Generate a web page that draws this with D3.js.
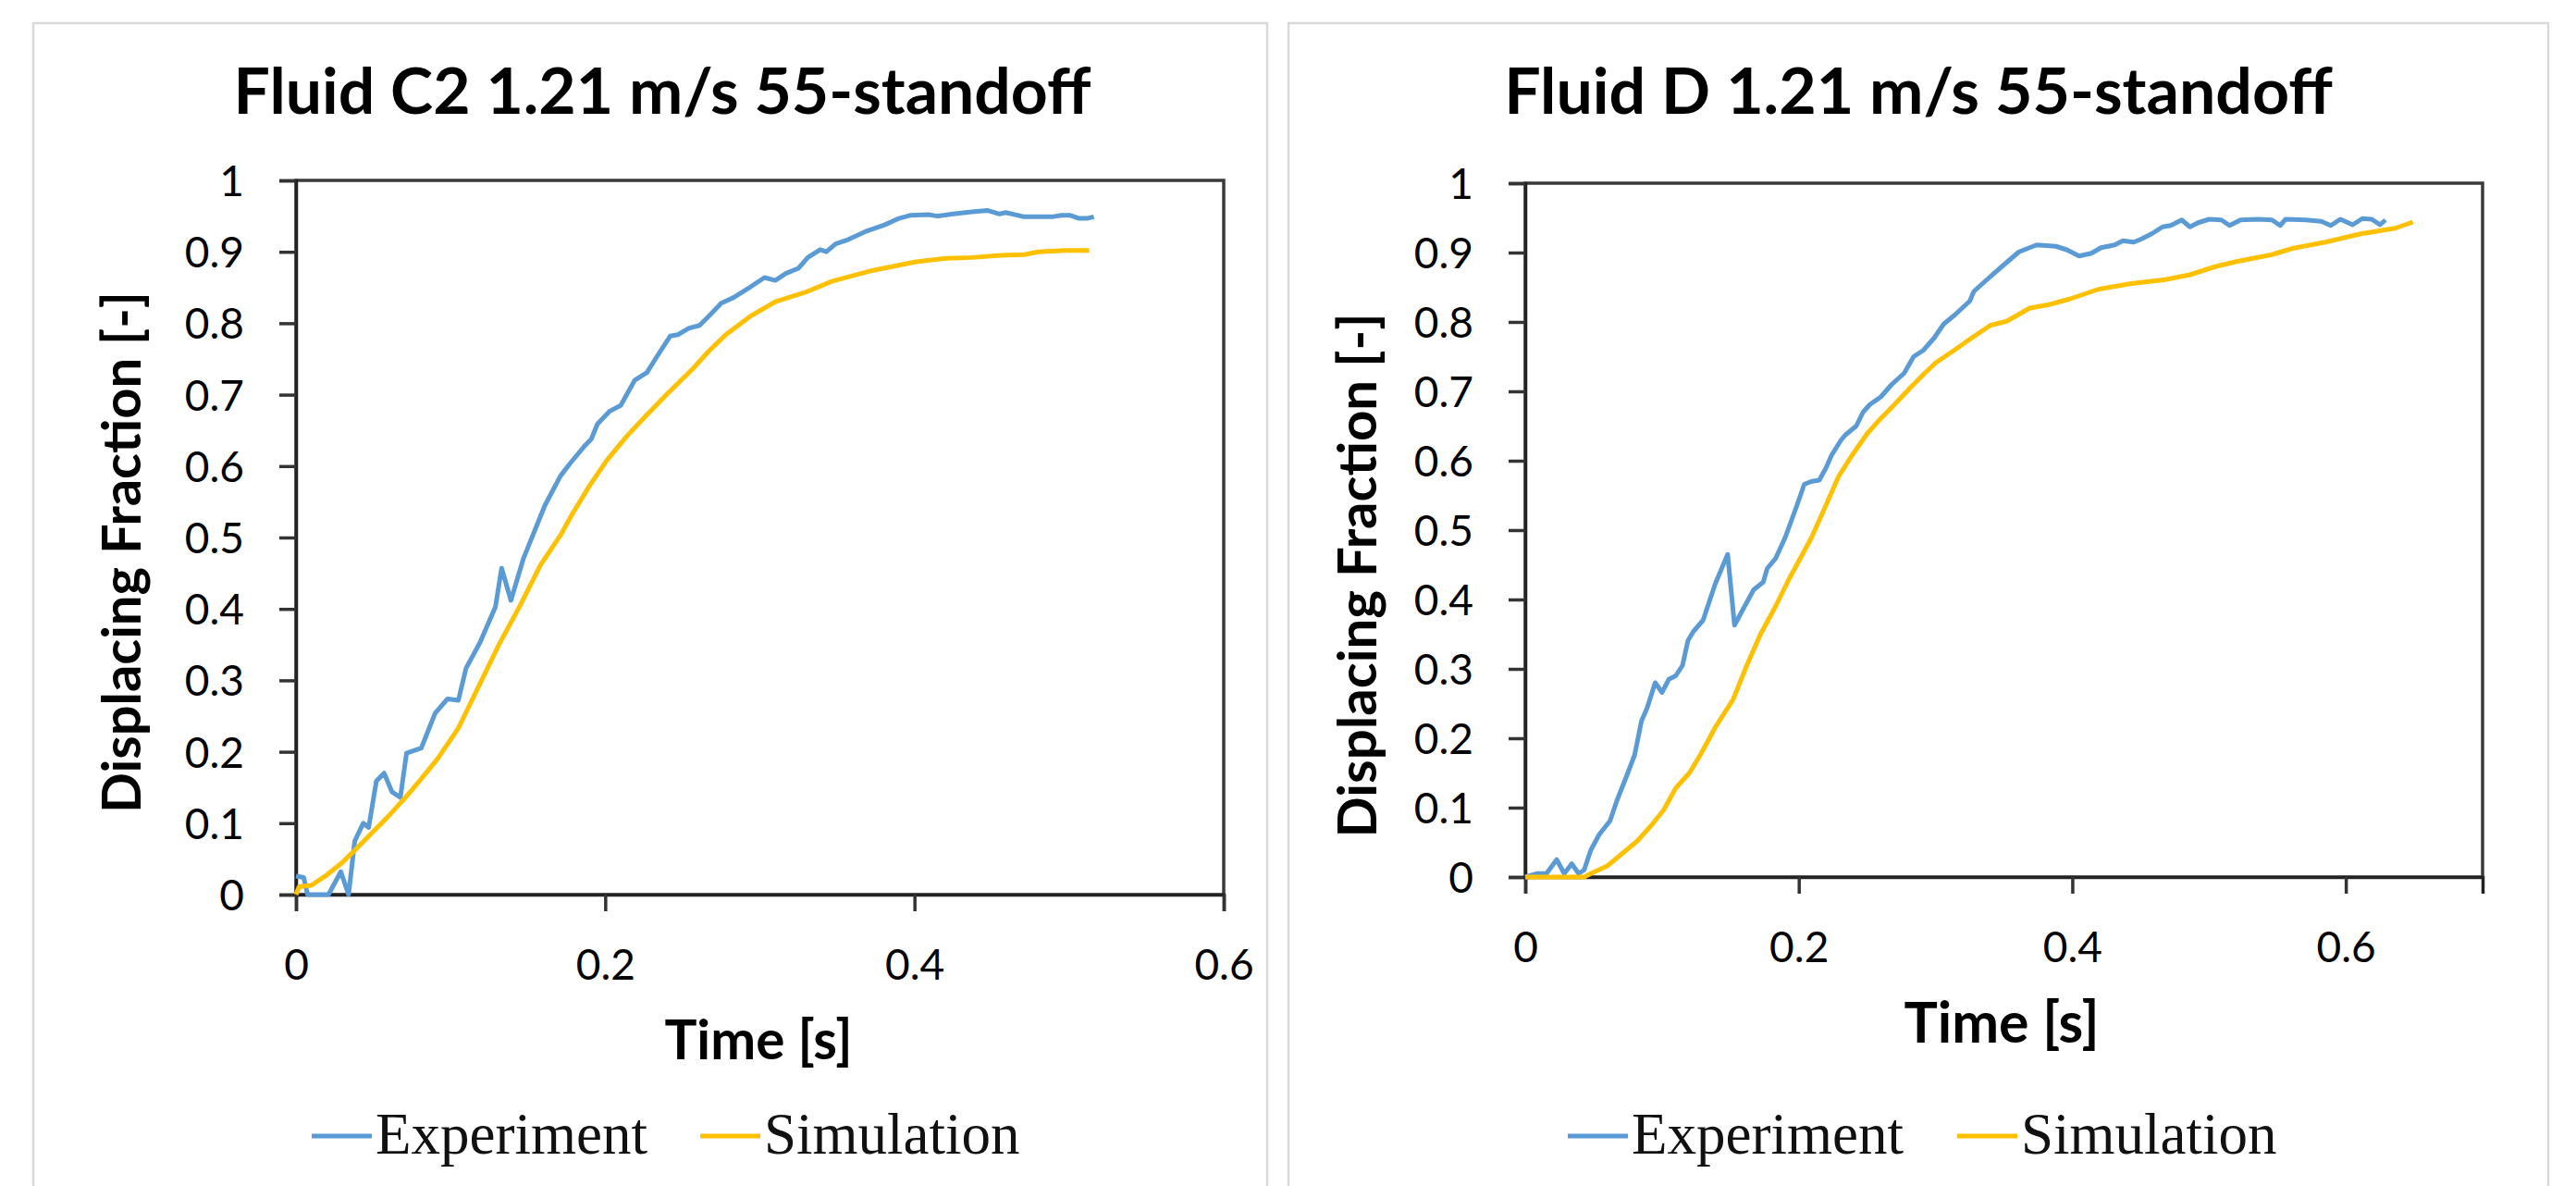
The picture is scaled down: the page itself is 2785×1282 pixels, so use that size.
<!DOCTYPE html>
<html>
<head>
<meta charset="utf-8">
<script src="https://cdn.jsdelivr.net/npm/d3@7"></script>
<style>
  body { margin: 0; background: #fff; }
  svg { display: block; }
</style>
</head>
<body>
<svg width="2785" height="1282"></svg>
<script>
// values, [time s, displacing fraction]
let c2Experiment = [
  [0,0.026],[0.005,0.024],[0.0075,0],[0.021,0],[0.029,0.032],[0.034,0],[0.038,0.075],[0.0435,0.1],
  [0.047,0.094],[0.052,0.159],[0.057,0.17],[0.062,0.144],[0.0675,0.136],[0.0715,0.198],[0.081,0.205],
  [0.09,0.254],[0.098,0.274],[0.105,0.272],[0.11,0.317],[0.119,0.353],[0.129,0.403],[0.133,0.457],
  [0.139,0.412],[0.147,0.47],[0.161,0.545],[0.171,0.586],[0.177,0.603],[0.187,0.629],[0.191,0.638],
  [0.195,0.659],[0.203,0.677],[0.21,0.685],[0.219,0.72],[0.227,0.731],[0.233,0.752],[0.242,0.782],
  [0.247,0.784],[0.254,0.793],[0.261,0.797],[0.267,0.81],[0.275,0.828],[0.283,0.836],[0.294,0.851],
  [0.303,0.864],[0.31,0.86],[0.317,0.87],[0.325,0.877],[0.331,0.892],[0.339,0.903],[0.343,0.9],
  [0.349,0.911],[0.357,0.917],[0.369,0.929],[0.381,0.938],[0.389,0.946],[0.397,0.951],[0.409,0.952],
  [0.415,0.95],[0.425,0.953],[0.437,0.956],[0.447,0.958],[0.455,0.953],[0.459,0.955],[0.471,0.949],
  [0.489,0.949],[0.495,0.951],[0.501,0.951],[0.506,0.947],[0.512,0.947],[0.516,0.949]
]
let c2Simulation = [
  [0,0],[0.002,0.011],[0.01,0.013],[0.019,0.026],[0.03,0.045],[0.038,0.062],[0.049,0.086],[0.059,0.108],
  [0.07,0.134],[0.081,0.162],[0.0915,0.19],[0.105,0.233],[0.118,0.291],[0.131,0.349],[0.145,0.405],
  [0.158,0.461],[0.171,0.503],[0.179,0.534],[0.19,0.573],[0.201,0.608],[0.214,0.642],[0.227,0.672],
  [0.241,0.703],[0.257,0.737],[0.267,0.761],[0.278,0.784],[0.294,0.81],[0.31,0.83],[0.329,0.843],
  [0.347,0.859],[0.371,0.873],[0.401,0.886],[0.421,0.891],[0.437,0.892],[0.456,0.895],[0.471,0.896],
  [0.48,0.9],[0.497,0.902],[0.513,0.902]
]
let dExperiment = [
  [0,0],[0.009,0.005],[0.0155,0.005],[0.023,0.025],[0.0285,0.005],[0.034,0.019],[0.039,0.005],[0.043,0.01],
  [0.048,0.039],[0.054,0.061],[0.062,0.081],[0.067,0.11],[0.074,0.145],[0.08,0.176],[0.085,0.225],
  [0.089,0.243],[0.095,0.28],[0.1,0.266],[0.105,0.285],[0.11,0.29],[0.115,0.305],[0.119,0.341],
  [0.123,0.354],[0.13,0.37],[0.139,0.423],[0.148,0.465],[0.153,0.363],[0.159,0.385],[0.167,0.414],
  [0.174,0.425],[0.177,0.445],[0.183,0.459],[0.19,0.489],[0.198,0.532],[0.204,0.566],[0.209,0.57],
  [0.215,0.572],[0.22,0.59],[0.224,0.608],[0.231,0.63],[0.234,0.637],[0.242,0.65],[0.247,0.67],
  [0.252,0.681],[0.26,0.692],[0.268,0.71],[0.277,0.726],[0.284,0.75],[0.291,0.759],[0.299,0.777],
  [0.306,0.797],[0.314,0.81],[0.325,0.83],[0.328,0.844],[0.337,0.86],[0.348,0.879],[0.361,0.901],
  [0.374,0.911],[0.388,0.909],[0.396,0.904],[0.405,0.895],[0.414,0.899],[0.421,0.907],[0.431,0.911],
  [0.437,0.917],[0.445,0.915],[0.451,0.92],[0.458,0.927],[0.466,0.937],[0.472,0.939],[0.48,0.947],
  [0.486,0.937],[0.492,0.943],[0.5,0.948],[0.509,0.947],[0.515,0.939],[0.523,0.947],[0.536,0.948],
  [0.546,0.947],[0.552,0.939],[0.556,0.948],[0.571,0.947],[0.582,0.945],[0.589,0.939],[0.596,0.948],
  [0.605,0.94],[0.612,0.949],[0.619,0.948],[0.625,0.94],[0.629,0.947]
]
let dSimulation = [
  [0,0],[0.043,0],[0.048,0.005],[0.06,0.016],[0.071,0.034],[0.082,0.052],[0.092,0.074],[0.101,0.096],
  [0.11,0.128],[0.12,0.15],[0.128,0.176],[0.139,0.216],[0.152,0.256],[0.162,0.305],[0.172,0.35],
  [0.183,0.39],[0.193,0.43],[0.201,0.459],[0.209,0.488],[0.219,0.532],[0.229,0.577],[0.239,0.608],
  [0.25,0.639],[0.26,0.661],[0.27,0.681],[0.281,0.704],[0.291,0.724],[0.3,0.741],[0.312,0.757],
  [0.325,0.775],[0.34,0.795],[0.352,0.801],[0.369,0.82],[0.383,0.825],[0.398,0.833],[0.419,0.847],
  [0.442,0.855],[0.468,0.861],[0.486,0.868],[0.505,0.88],[0.52,0.887],[0.546,0.897],[0.561,0.906],
  [0.585,0.915],[0.611,0.927],[0.636,0.935],[0.649,0.944]
]

let yTicks = [0, 0.1, 0.2, 0.3, 0.4, 0.5, 0.6, 0.7, 0.8, 0.9, 1]
let xTicks = [0, 0.2, 0.4, 0.6]
let titles = ['Fluid C2 1.21 m/s 55-standoff', 'Fluid D 1.21 m/s 55-standoff']
let xMaxes = [0.6, 0.7]
let seriesNames = ['Experiment', 'Simulation']
let colors = ['#5b9bd5', '#ffc000']

// layout of the two panels, in page pixels
let panels = [
  { frame: [36, 25, 1334], plot: { left: 320, right: 1323, top: 195, bottom: 967 },
    title: [716, 123, 927], yTitle: [129, 597, 564], xTitle: [820, 1145, 203],
    legend: [337, 757], exp: c2Experiment, sim: c2Simulation },
  { frame: [1393, 25, 1362], plot: { left: 1649, right: 2684, top: 198, bottom: 948 },
    title: [2074, 123, 896], yTitle: [1465, 622, 567], xTitle: [2164, 1127, 211],
    legend: [1695, 2116], exp: dExperiment, sim: dSimulation }
]

let svg = d3.select('svg')

function fitWidth(sel, target) {
  let fs = +sel.attr('font-size')
  let w = sel.node().getComputedTextLength()
  sel.attr('font-size', fs * target / w)
}

panels.forEach((p, i) => {
  let g = svg.append('g')

  // light panel frame
  g.append('rect')
    .attr('x', p.frame[0]).attr('y', p.frame[1])
    .attr('width', p.frame[2]).attr('height', 1400)
    .attr('fill', 'none').attr('stroke', '#d9d9d9').attr('stroke-width', 2.5)

  let xScale = d3.scaleLinear().domain([0, xMaxes[i]]).range([p.plot.left, p.plot.right])
  let yScale = d3.scaleLinear().domain([0, 1]).range([p.plot.bottom, p.plot.top])

  // plot area border
  g.append('rect')
    .attr('x', p.plot.left).attr('y', p.plot.top)
    .attr('width', p.plot.right - p.plot.left).attr('height', p.plot.bottom - p.plot.top)
    .attr('fill', 'none').attr('stroke', '#3a3a3a').attr('stroke-width', 3.5)

  let yAxis = d3.axisLeft(yScale).tickValues(yTicks).tickSize(18).tickPadding(38)
    .tickFormat(d => d3.format('')(+d.toFixed(1)))
  let yg = g.append('g')
    .attr('transform', 'translate(' + [p.plot.left, 0] + ')')
    .call(yAxis)
  yg.selectAll('text').attr('font-family', 'Lato, sans-serif').attr('font-size', 46)
    .attr('fill', '#000').attr('dy', '0.36em')

  let xAxis = d3.axisBottom(xScale).tickValues(xTicks).tickSize(18)
    .tickFormat(d => d3.format('')(+d.toFixed(1)))
  let xg = g.append('g')
    .attr('transform', 'translate(' + [0, p.plot.bottom] + ')')
    .call(xAxis)
  xg.selectAll('text').attr('font-family', 'Lato, sans-serif').attr('font-size', 46)
    .attr('fill', '#000').attr('y', 92).attr('dy', 0)

  ;[yg, xg].forEach(a => {
    a.select('.domain').attr('stroke', '#222').attr('stroke-width', 3.5)
    a.selectAll('.tick line').attr('stroke', '#333').attr('stroke-width', 3.5)
  })

  // series
  let line = d3.line().x(d => xScale(d[0])).y(d => yScale(d[1]))
  ;[p.exp, p.sim].forEach((s, k) => {
    g.append('path')
      .datum(s)
      .attr('d', line)
      .attr('fill', 'none')
      .attr('stroke', colors[k])
      .attr('stroke-width', 5)
      .attr('stroke-linejoin', 'round')
  })

  // titles
  let t = g.append('text')
    .attr('x', p.title[0]).attr('y', p.title[1])
    .attr('text-anchor', 'middle')
    .attr('font-family', 'Lato, sans-serif').attr('font-weight', 'bold')
    .attr('font-size', 60).attr('fill', '#000')
    .text(titles[i])
  fitWidth(t, p.title[2])

  let yt = g.append('text')
    .attr('transform', 'translate(' + [p.yTitle[0], p.yTitle[1]] + ') rotate(-90)')
    .attr('text-anchor', 'middle').attr('dominant-baseline', 'central')
    .attr('font-family', 'Lato, sans-serif').attr('font-weight', 'bold')
    .attr('font-size', 50).attr('fill', '#000')
    .text('Displacing Fraction [-]')
  fitWidth(yt, p.yTitle[2])

  let xt = g.append('text')
    .attr('x', p.xTitle[0]).attr('y', p.xTitle[1])
    .attr('text-anchor', 'middle')
    .attr('font-family', 'Lato, sans-serif').attr('font-weight', 'bold')
    .attr('font-size', 50).attr('fill', '#000')
    .text('Time [s]')
  fitWidth(xt, p.xTitle[2])

  // legend
  seriesNames.forEach((name, k) => {
    let lx = p.legend[k]
    g.append('line')
      .attr('x1', lx).attr('x2', lx + 65)
      .attr('y1', 1228).attr('y2', 1228)
      .attr('stroke', colors[k]).attr('stroke-width', 5)
    g.append('text')
      .attr('x', lx + 69).attr('y', 1247)
      .attr('font-family', '"Liberation Serif", serif')
      .attr('font-size', 63).attr('fill', '#111')
      .text(name)
  })
})
</script>
</body>
</html>
